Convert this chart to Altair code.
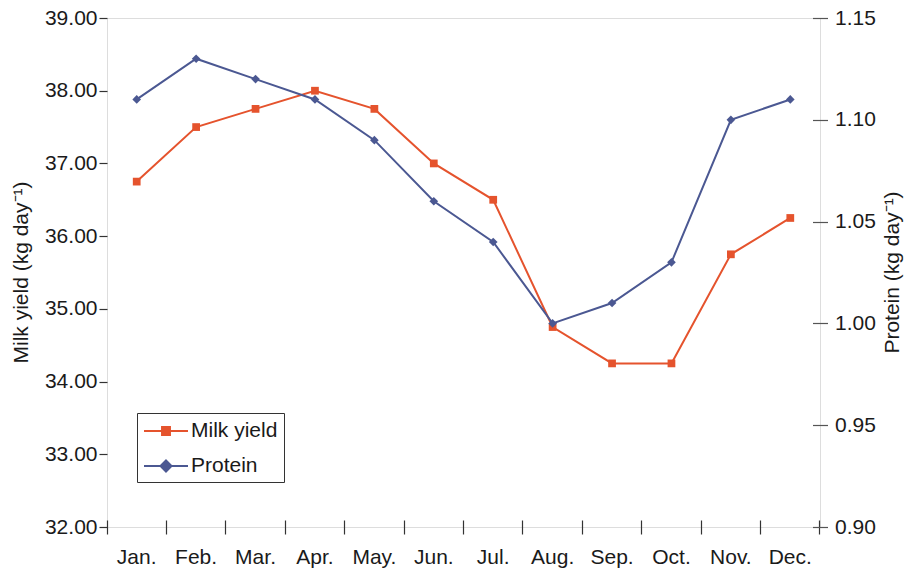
import altair as alt
import pandas as pd

months = ["Jan.", "Feb.", "Mar.", "Apr.", "May.", "Jun.", "Jul.", "Aug.", "Sep.", "Oct.", "Nov.", "Dec."]
milk_yield = [36.75, 37.5, 37.75, 38.0, 37.75, 37.0, 36.5, 34.75, 34.25, 34.25, 35.75, 36.25]
protein = [1.11, 1.13, 1.12, 1.11, 1.09, 1.06, 1.04, 1.00, 1.01, 1.03, 1.10, 1.11]
series_names = ["Milk yield", "Protein"]
milk_ticks = [32, 33, 34, 35, 36, 37, 38, 39]
protein_ticks = [0.90, 0.95, 1.00, 1.05, 1.10, 1.15]

ORANGE = "#E5532D"
BLUE = "#4B5892"
FONT = "Liberation Sans"

df = pd.DataFrame({"month": months, "milk": milk_yield, "protein": protein})
legend_df = pd.DataFrame({"series": series_names})

x_enc = alt.X(
    "month:N",
    sort=months,
    scale=alt.Scale(type="band", paddingInner=0, paddingOuter=0),
    axis=alt.Axis(
        title=None, labelAngle=0, bandPosition=1, tickExtra=True, domain=False,
        tickSize=14, offset=-7, tickColor="#333", tickWidth=1.2,
        labelPadding=12, labelFontSize=21, labelColor="#1a1a1a",
    ),
)

milk_layer = alt.Chart(df).mark_line(
    color=ORANGE, strokeWidth=2,
    point=alt.OverlayMarkDef(shape="square", size=60, filled=True, color=ORANGE, opacity=1),
).encode(
    x=x_enc,
    y=alt.Y(
        "milk:Q",
        scale=alt.Scale(domain=[32, 39], nice=False, zero=False),
        axis=alt.Axis(
            orient="left", title="Milk yield (kg day⁻¹)", values=milk_ticks, format=".2f",
            domain=False, grid=False, tickSize=8, tickColor="#333", tickWidth=1.2,
            labelPadding=2, labelFontSize=21, labelColor="#1a1a1a",
            titleFontSize=21, titleFontWeight="normal", titleColor="#1a1a1a",
            titleAngle=270, titleBaseline="middle", titleAlign="center",
            titleX=-86, titleY=254,
        ),
    ),
)

protein_layer = alt.Chart(df).mark_line(
    color=BLUE, strokeWidth=2,
    point=alt.OverlayMarkDef(shape="diamond", size=75, filled=True, color=BLUE, opacity=1),
).encode(
    x=alt.X("month:N", sort=months),
    y=alt.Y(
        "protein:Q",
        scale=alt.Scale(domain=[0.90, 1.15], nice=False, zero=False),
        axis=alt.Axis(
            orient="right", title="Protein (kg day⁻¹)", values=protein_ticks, format=".2f",
            domain=False, grid=False, tickSize=15, offset=-7.5, tickColor="#555", tickWidth=1.2,
            labelPadding=7, labelFontSize=21, labelColor="#1a1a1a",
            titleFontSize=21, titleFontWeight="normal", titleColor="#1a1a1a",
            titleAngle=270, titleBaseline="middle", titleAlign="center",
            titleX=80, titleY=254,
        ),
    ),
)

milk_path = "M-2,0H2M-0.36,-0.36H0.36V0.36H-0.36ZM-0.18,-0.18H0.18V0.18H-0.18Z"
protein_path = "M-2,0H2M0,-0.5L0.5,0L0,0.5L-0.5,0ZM0,-0.25L0.25,0L0,0.25L-0.25,0Z"

legend_props = dict(
    title=None, orient="none", legendX=30, legendY=395,
    padding=6, strokeColor="#333", fillColor="white",
    labelFontSize=21, labelColor="#1a1a1a", labelFont=FONT,
    symbolSize=484, symbolStrokeWidth=2, symbolOffset=11,
    labelOffset=13, rowPadding=13,
)

legend_layer = alt.Chart(legend_df).mark_point(filled=False, opacity=0).encode(
    color=alt.Color(
        "series:N",
        scale=alt.Scale(domain=series_names, range=[ORANGE, BLUE]),
        legend=alt.Legend(**legend_props),
    ),
    shape=alt.Shape(
        "series:N",
        scale=alt.Scale(domain=series_names, range=[milk_path, protein_path]),
        legend=alt.Legend(**legend_props),
    ),
)

chart = alt.layer(milk_layer, protein_layer, legend_layer).resolve_scale(
    y="independent"
).properties(
    width=713, height=509,
    autosize=alt.AutoSizeParams(type="none"),
    padding={"left": 107, "top": 18, "right": 86, "bottom": 44},
).configure_view(
    stroke="#9a9a9a", strokeWidth=1.5
).configure_axis(
    labelFont=FONT, titleFont=FONT
).configure(background="white")

chart.save("out.html", embed_options={"renderer": "svg", "actions": False})
